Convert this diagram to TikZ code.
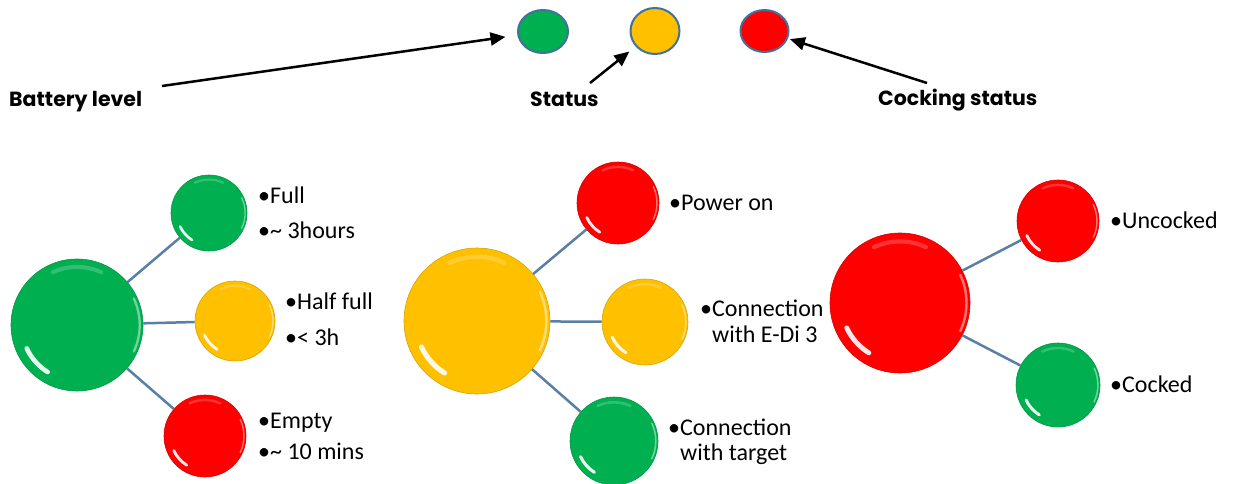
\documentclass[tikz,border=0pt]{standalone}
\usepackage{fontspec}
\setmainfont{Carlito}
\newfontfamily\lblfont{Poppins}
\usetikzlibrary{arrows.meta,calc,shapes.geometric}
\definecolor{cgreen}{HTML}{00B050}
\definecolor{cyellow}{HTML}{FFC000}
\definecolor{cred}{HTML}{FF0000}
\definecolor{rim}{HTML}{41719C}
\definecolor{link}{HTML}{5A7FA6}
\tikzset{
  ball/.style={circle, inner sep=0pt, draw=#1!85!black, line width=0.6pt, fill=#1},
  dot/.style={ellipse, inner sep=0pt, draw=rim, line width=2pt, fill=#1},
  shine/.style={white, line cap=round},
  lbl/.style={font=\lblfont\bfseries\fontsize{20.5}{24}\selectfont, anchor=base west, inner sep=0pt},
  itm/.style={font=\fontsize{24}{27}\selectfont, anchor=base west, inner sep=0pt},
  pointer/.style={draw=black, line width=2.5pt, -{Triangle[length=15pt,width=13pt]}},
  spoke/.style={draw=link, line width=2.5pt},
}
\newcommand\ball[5]{%
  \node[ball=#5, minimum size=2*#4pt] (#1) at (#2,#3) {};
  \draw[shine, opacity=.2, line width=0.06*#4pt] ($(#1.center)+(65:0.88*#4pt)$) arc[start angle=65, end angle=115, radius=0.88*#4pt];
  \draw[shine, opacity=.45, line width=0.035*#4pt] ($(#1.center)+(-25:0.95*#4pt)$) arc[start angle=-25, end angle=25, radius=0.95*#4pt];
  \draw[shine, opacity=.9, line width=0.07*#4pt] ($(#1.center)+(205:0.84*#4pt)$) arc[start angle=205, end angle=238, radius=0.84*#4pt];
}
\begin{document}
\begin{tikzpicture}[x=1pt,y=-1pt]
\useasboundingbox (0,0) rectangle (1236,484);
% top indicators
\node[dot=cgreen, minimum width=50pt, minimum height=43pt] (tg) at (543,31.5) {};
\node[dot=cyellow, minimum width=49pt, minimum height=46pt] (ty) at (655,31) {};
\node[dot=cred, minimum width=48pt, minimum height=42pt] (tr) at (764.5,31) {};
\node[lbl] (lbat) at (9,107) {Battery level};
\node[lbl] (lsta) at (530,107) {Status};
\node[lbl] (lcock) at (878,106) {Cocking status};
\coordinate (sbat) at (162,86);
\coordinate (ssta) at (590,83);
\coordinate (scock) at (927,83);
\draw[pointer, shorten >=12pt] (sbat) -- (tg);
\draw[pointer, shorten >=8pt] (ssta) -- (ty);
\draw[pointer, shorten >=2pt] (scock) -- (tr);
% battery cluster
\ball{bg}{77}{325}{66}{cgreen}
\ball{g1}{209}{213}{38}{cgreen}
\ball{y1}{235}{321}{40}{cyellow}
\ball{r1}{205}{436}{41}{cred}
\draw[spoke] (bg) -- (g1);
\draw[spoke] (bg) -- (y1);
\draw[spoke] (bg) -- (r1);
\node[itm] (t1a) at (258,203) {•Full};
\node[itm] (t1b) at (258,238) {•\textasciitilde{} 3hours};
\node[itm] (t2a) at (285,309) {•Half full};
\node[itm] (t2b) at (285,345) {•< 3h};
\node[itm] (t3a) at (258,428) {•Empty};
\node[itm] (t3b) at (258,459) {•\textasciitilde{} 10 mins};
% status cluster
\ball{by}{477}{321}{73}{cyellow}
\ball{r2}{618}{203}{41}{cred}
\ball{y2}{645}{322}{43}{cyellow}
\ball{g2}{614}{441}{44}{cgreen}
\draw[spoke] (by) -- (r2);
\draw[spoke] (by) -- (y2);
\draw[spoke] (by) -- (g2);
\node[itm] (t4) at (669,210) {•Power on};
\node[itm] (t5a) at (700,316) {•Connection};
\node[itm] (t5b) at (700,342) {\hphantom{•}with E-Di 3};
\node[itm] (t6a) at (668,435) {•Connection};
\node[itm] (t6b) at (668,460) {\hphantom{•}with target};
% cocking cluster
\ball{br}{900}{303}{70}{cred}
\ball{r3}{1058}{221}{41}{cred}
\ball{g3}{1058}{385}{42}{cgreen}
\draw[spoke] (br) -- (r3);
\draw[spoke] (br) -- (g3);
\node[itm] (t7) at (1110,228) {•Uncocked};
\node[itm] (t8) at (1110,392) {•Cocked};
\end{tikzpicture}
\end{document}
